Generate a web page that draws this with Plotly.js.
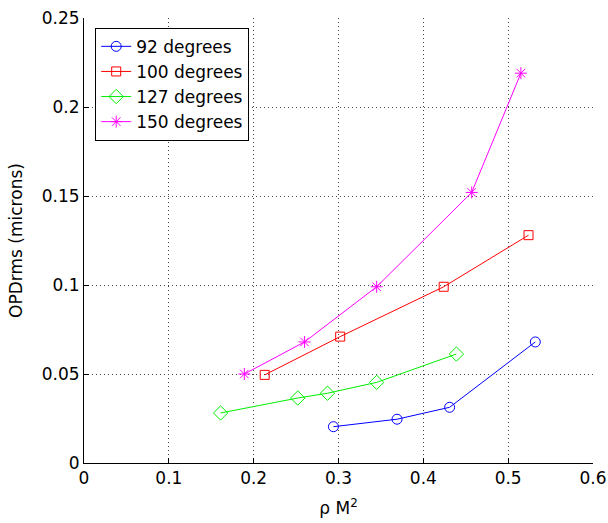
<!DOCTYPE html>
<html><head><meta charset="utf-8">
<script src="https://cdn.plot.ly/plotly-3.0.1.min.js"></script>
<style>body{margin:0;background:#fff}#c{width:608px;height:523px}</style>
</head><body><div id="c"></div>
<script>
const seriesNames = ["92 degrees", "100 degrees", "127 degrees", "150 degrees"];
const x92 = [0.294, 0.369, 0.431, 0.532];
const y92 = [0.0204, 0.0246, 0.0313, 0.068];
const x100 = [0.213, 0.302, 0.424, 0.524];
const y100 = [0.0495, 0.071, 0.099, 0.128];
const x127 = [0.161, 0.252, 0.287, 0.345, 0.439];
const y127 = [0.0281, 0.0365, 0.0392, 0.0453, 0.0612];
const x150 = [0.189, 0.260, 0.345, 0.457, 0.515];
const y150 = [0.050, 0.068, 0.099, 0.152, 0.219];
const xTicks = [0, 0.1, 0.2, 0.3, 0.4, 0.5, 0.6];
const xTickLabels = ["0", "0.1", "0.2", "0.3", "0.4", "0.5", "0.6"];
const yTicks = [0, 0.05, 0.1, 0.15, 0.2, 0.25];
const yTickLabels = ["0", "0.05", "0.1", "0.15", "0.2", "0.25"];

const colors = ["#0000ff", "#ff0000", "#00ee00", "#ff00ff"];
const symbols = ["circle-open", "square-open", "diamond-open", "asterisk-open"];
const sizes = [10, 9, 11, 10];
const xs = [x92, x100, x127, x150];
const ys = [y92, y100, y127, y150];

const traces = seriesNames.map((n, i) => ({
  x: xs[i], y: ys[i], name: n, type: "scatter", mode: "lines+markers",
  line: {color: colors[i], width: 1},
  marker: {symbol: symbols[i], size: sizes[i], color: colors[i], line: {color: colors[i], width: 1}}
}));

const fam = "DejaVu Sans, Arial, sans-serif";
const font = {family: fam, size: 17, color: "#000"};
const layout = {
  width: 608, height: 523,
  margin: {l: 84, r: 15, t: 18, b: 60},
  paper_bgcolor: "#fff", plot_bgcolor: "#fff",
  font: font,
  showlegend: true,
  legend: {x: 0.022, y: 0.978, xanchor: "left", yanchor: "top",
    bordercolor: "#000", borderwidth: 1, bgcolor: "#fff",
    font: {family: fam, size: 17, color: "#000"},
    tracegroupgap: 0},
  xaxis: {range: [0, 0.6], tickvals: xTicks, ticktext: xTickLabels,
    showgrid: true, gridcolor: "#444", griddash: "1px,3px", gridwidth: 1,
    showline: true, linecolor: "#000", linewidth: 1, mirror: false,
    ticks: "inside", ticklen: 5, tickcolor: "#000", zeroline: false,
    title: {text: "ρ M<sup>2</sup>", font: font, standoff: 14}},
  yaxis: {range: [0, 0.25], tickvals: yTicks, ticktext: yTickLabels,
    showgrid: true, gridcolor: "#444", griddash: "1px,3px", gridwidth: 1,
    showline: true, linecolor: "#000", linewidth: 1, mirror: false,
    ticks: "inside", ticklen: 5, tickcolor: "#000", zeroline: false,
    title: {text: "OPDrms (microns)", font: font, standoff: 14}}
};
Plotly.newPlot("c", traces, layout, {displayModeBar: false, staticPlot: true});
</script></body></html>
